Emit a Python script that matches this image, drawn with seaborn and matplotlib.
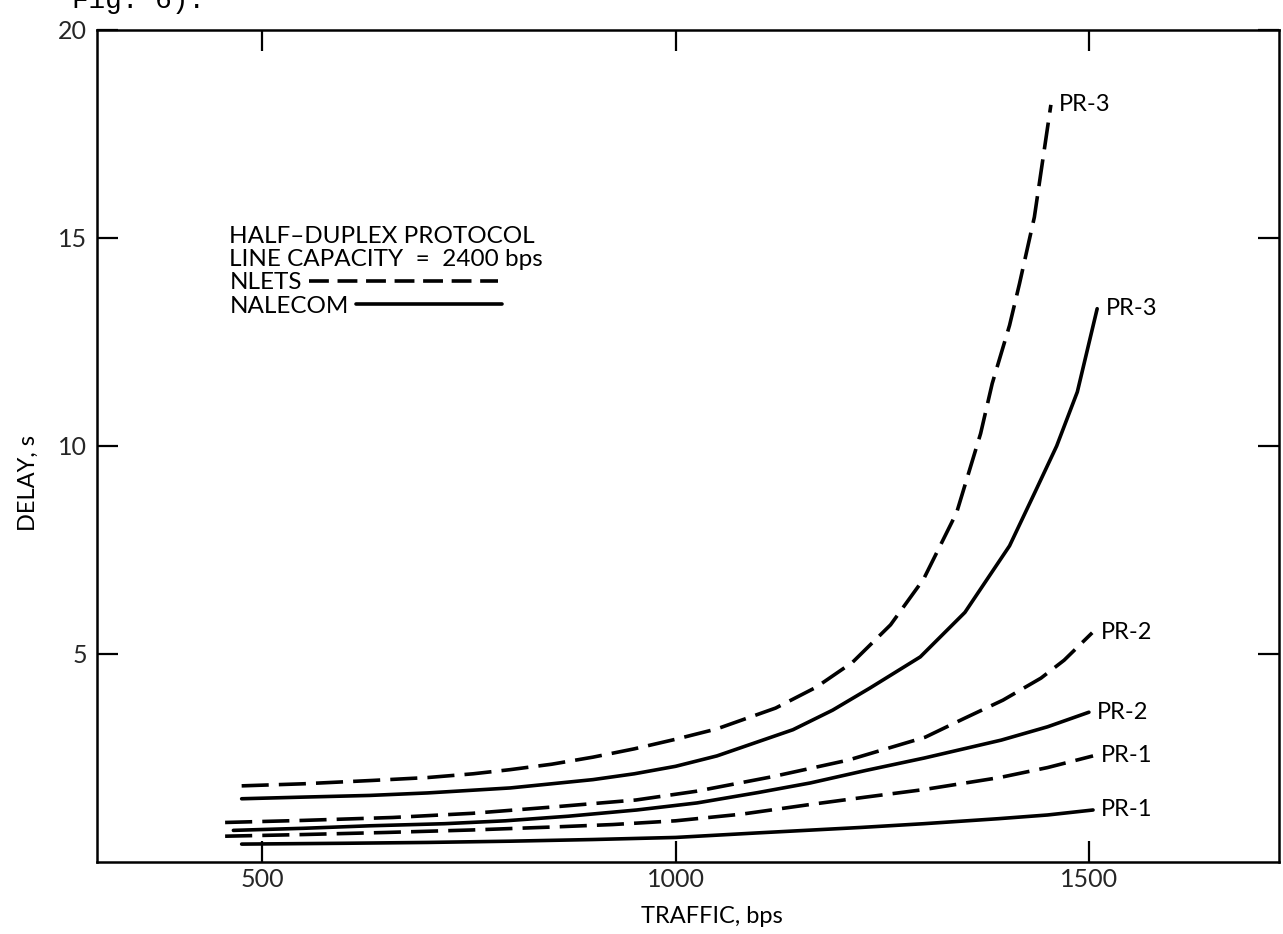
import matplotlib
matplotlib.use("Agg")
import matplotlib.pyplot as plt
from matplotlib.lines import Line2D
from matplotlib.legend_handler import HandlerLine2D
import pandas as pd
import seaborn as sns

# ---------------- data ----------------
xticks = [500, 1000, 1500]
yticks = [5, 10, 15, 20]

nlets_pr3_traffic = [475, 550, 633, 700, 755, 800, 850, 900, 950, 1000, 1050, 1121, 1170,
                     1214, 1260, 1300, 1340, 1369, 1383, 1404, 1416, 1434, 1454]
nlets_pr3_delay = [1.83, 1.88, 1.96, 2.03, 2.12, 2.22, 2.35, 2.52, 2.72, 2.95, 3.2, 3.7, 4.2,
                   4.8, 5.7, 6.8, 8.4, 10.3, 11.5, 12.9, 13.9, 15.5, 18.2]

nalecom_pr3_traffic = [475, 550, 630, 700, 800, 900, 950, 1000, 1050, 1142, 1190, 1235, 1296,
                       1350, 1404, 1435, 1461, 1486, 1510]
nalecom_pr3_delay = [1.52, 1.56, 1.6, 1.66, 1.78, 1.98, 2.12, 2.3, 2.55, 3.18, 3.65, 4.18, 4.93,
                     6.0, 7.6, 8.9, 10.0, 11.3, 13.3]

nlets_pr2_traffic = [455, 550, 658, 754, 850, 952, 1025, 1117, 1209, 1302, 1348, 1396, 1442, 1470, 1504]
nlets_pr2_delay = [0.95, 1.0, 1.07, 1.17, 1.32, 1.49, 1.7, 2.05, 2.45, 3.0, 3.44, 3.89, 4.42, 4.85, 5.51]

nalecom_pr2_traffic = [465, 550, 630, 720, 794, 870, 953, 1026, 1100, 1163, 1230, 1301, 1394, 1450, 1500]
nalecom_pr2_delay = [0.76, 0.81, 0.87, 0.92, 0.99, 1.1, 1.25, 1.42, 1.67, 1.9, 2.2, 2.5, 2.93, 3.25, 3.6]

nlets_pr1_traffic = [455, 550, 650, 754, 850, 924, 1000, 1080, 1162, 1230, 1300, 1392, 1450, 1505]
nlets_pr1_delay = [0.62, 0.66, 0.71, 0.77, 0.84, 0.9, 0.99, 1.15, 1.38, 1.56, 1.74, 2.03, 2.27, 2.55]

nalecom_pr1_traffic = [475, 600, 700, 800, 900, 1000, 1100, 1224, 1300, 1390, 1450, 1505]
nalecom_pr1_delay = [0.43, 0.45, 0.47, 0.5, 0.54, 0.59, 0.7, 0.83, 0.92, 1.04, 1.13, 1.25]

series = [
    ("NLETS", "PR-3", nlets_pr3_traffic, nlets_pr3_delay),
    ("NALECOM", "PR-3", nalecom_pr3_traffic, nalecom_pr3_delay),
    ("NLETS", "PR-2", nlets_pr2_traffic, nlets_pr2_delay),
    ("NALECOM", "PR-2", nalecom_pr2_traffic, nalecom_pr2_delay),
    ("NLETS", "PR-1", nlets_pr1_traffic, nlets_pr1_delay),
    ("NALECOM", "PR-1", nalecom_pr1_traffic, nalecom_pr1_delay),
]

rows = []
for net, pr, t, d in series:
    for a, b in zip(t, d):
        rows.append({"network": net, "curve": net + " " + pr, "traffic": a, "delay": b})
df = pd.DataFrame(rows)

# ---------------- style ----------------
sns.set_theme(style="ticks")
plt.rcParams["font.family"] = ["Lato", "DejaVu Sans"]
plt.rcParams["text.color"] = "black"
plt.rcParams["axes.labelcolor"] = "black"

fig = plt.figure(figsize=(12.83, 9.34), dpi=100)
fig.patch.set_facecolor("white")
ax = fig.add_axes([0.0756, 0.0771, 0.9213, 0.8908])

sns.lineplot(data=df, x="traffic", y="delay", style="network", units="curve",
             estimator=None, sort=False, color="black", linewidth=2.6,
             dashes={"NLETS": (7.5, 2.8), "NALECOM": ""}, legend=False, ax=ax)

for net, pr, t, d in series:
    ax.annotate(pr, xy=(t[-1], d[-1]), xytext=(6, 0), textcoords="offset points",
                ha="left", va="center", fontsize=17, color="black")

ax.set_xlim(300, 1730)
ax.set_ylim(0, 20)
ax.set_xticks(xticks)
ax.set_yticks(yticks)
ax.set_xticklabels([str(v) for v in xticks])
ax.set_yticklabels([str(v) for v in yticks])
ax.tick_params(axis="both", direction="in", length=15, width=1.6, color="black",
               top=True, right=True, labeltop=False, labelright=False,
               labelsize=18, pad=7)
ax.tick_params(axis="x", pad=4)
for s in ax.spines.values():
    s.set_visible(True)
    s.set_linewidth(1.8)
    s.set_color("black")

ax.set_xlabel("TRAFFIC, bps", fontsize=17)
ax.set_ylabel("DELAY, s", fontsize=17)
ax.xaxis.set_label_coords(0.52, -0.066)
ax.xaxis.label.set_va("center")
ax.yaxis.set_label_coords(-0.058, 0.455)
ax.yaxis.label.set_va("center")


class LongerLine(HandlerLine2D):
    """Legend line handler whose sample runs a fixed extra length to the right."""
    def __init__(self, extra, **kw):
        super().__init__(**kw)
        self.extra = extra

    def create_artists(self, legend, orig_handle, xdescent, ydescent, width, height,
                       fontsize, trans):
        return super().create_artists(legend, orig_handle, xdescent, ydescent,
                                      width + self.extra, height, fontsize, trans)


h_nlets = Line2D([], [], color="black", lw=2.6, dashes=(5.5, 2.4))
h_nalecom = Line2D([], [], color="black", lw=2.6)
leg = ax.legend([h_nlets, h_nalecom], ["NLETS", "NALECOM"],
                title="HALF–DUPLEX PROTOCOL\nLINE CAPACITY  =  2400 bps",
                handler_map={h_nlets: LongerLine(31)},
                loc="upper left", bbox_to_anchor=(0.112, 0.764), frameon=False,
                markerfirst=False, fontsize=17.5, title_fontsize=17.5, alignment="left",
                handlelength=6.0, handletextpad=0.3, labelspacing=0.1,
                borderpad=0, borderaxespad=0)
leg.get_title().set_linespacing(1.1)
leg._legend_handle_box.get_children()[0].align = "left"

fig.text(72 / 1283, 1 - 8 / 934, "Fig. 6).", family=["Liberation Mono", "DejaVu Sans Mono"],
         fontsize=20, va="baseline", ha="left", color="black")

fig.savefig("out.png", dpi=100, facecolor="white")
